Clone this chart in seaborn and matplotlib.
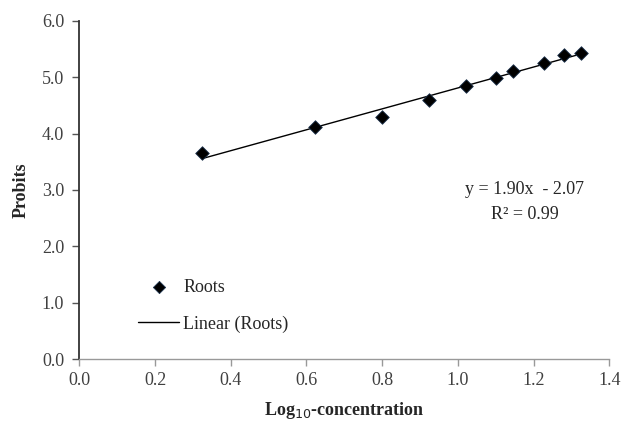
import matplotlib
matplotlib.use("Agg")
import matplotlib.pyplot as plt
import numpy as np
import seaborn as sns

# log10 concentration vs probit values (roots)
log_conc = [0.324, 0.623, 0.799, 0.924, 1.021, 1.102, 1.146, 1.228, 1.279, 1.325]
probits = [3.65, 4.11, 4.30, 4.59, 4.85, 4.99, 5.10, 5.25, 5.39, 5.43]
x_ticks = [0.0, 0.2, 0.4, 0.6, 0.8, 1.0, 1.2, 1.4]
y_ticks = [0.0, 1.0, 2.0, 3.0, 4.0, 5.0, 6.0]
equation = "y = 1.90x  - 2.07"
r_squared = "R\u00b2 = 0.99"

sns.set_style("white")
plt.rcParams["font.family"] = ["Liberation Serif", "DejaVu Serif"]

fig = plt.figure(figsize=(6.22, 4.26), dpi=100)
ax = fig.add_axes([0.1275, 0.1566, 0.8521, 0.7948])

sns.regplot(
    x=np.array(log_conc), y=np.array(probits), ax=ax, ci=None, marker="D",
    label="Roots",
    scatter_kws={"s": 48, "color": "black", "edgecolors": "#1f3550", "linewidths": 0.6,
                 "alpha": 1.0, "zorder": 3},
    line_kws={"color": "black", "lw": 1.0, "label": "Linear (Roots)"},
)

ax.set_xlim(0, 1.4)
ax.set_ylim(0, 6.0)
ax.set_xticks(x_ticks)
ax.set_yticks(y_ticks)
ax.set_xticklabels([f"{v:.1f}" for v in x_ticks])
ax.set_yticklabels([f"{v:.1f}" for v in y_ticks])
ax.tick_params(axis="both", labelsize=13, labelcolor="#404040", direction="out",
               length=5, width=1, color="#555555", bottom=True, left=True)
ax.tick_params(axis="x", pad=4, color="#999999")
ax.tick_params(axis="y", pad=6)

for side in ["top", "right"]:
    ax.spines[side].set_visible(False)
ax.spines["left"].set_color("#333333")
ax.spines["left"].set_linewidth(1.3)
ax.spines["bottom"].set_color("#999999")
ax.spines["bottom"].set_linewidth(1.0)

ax.set_xlabel("Log$_{10}$-concentration", fontsize=13, fontweight="bold", labelpad=8)
ax.set_ylabel("Probits", fontsize=13, fontweight="bold", labelpad=9)

ax.text(1.177, 3.0, equation, fontsize=13, ha="center", va="center")
ax.text(1.177, 2.56, r_squared, fontsize=13, ha="center", va="center")

ax.legend(loc="lower left", bbox_to_anchor=(0.08, 0.03), frameon=False, fontsize=13,
          handlelength=2.3, handletextpad=0.2, labelspacing=1.1, markerscale=0.9)

fig.savefig("out.png", dpi=100)
